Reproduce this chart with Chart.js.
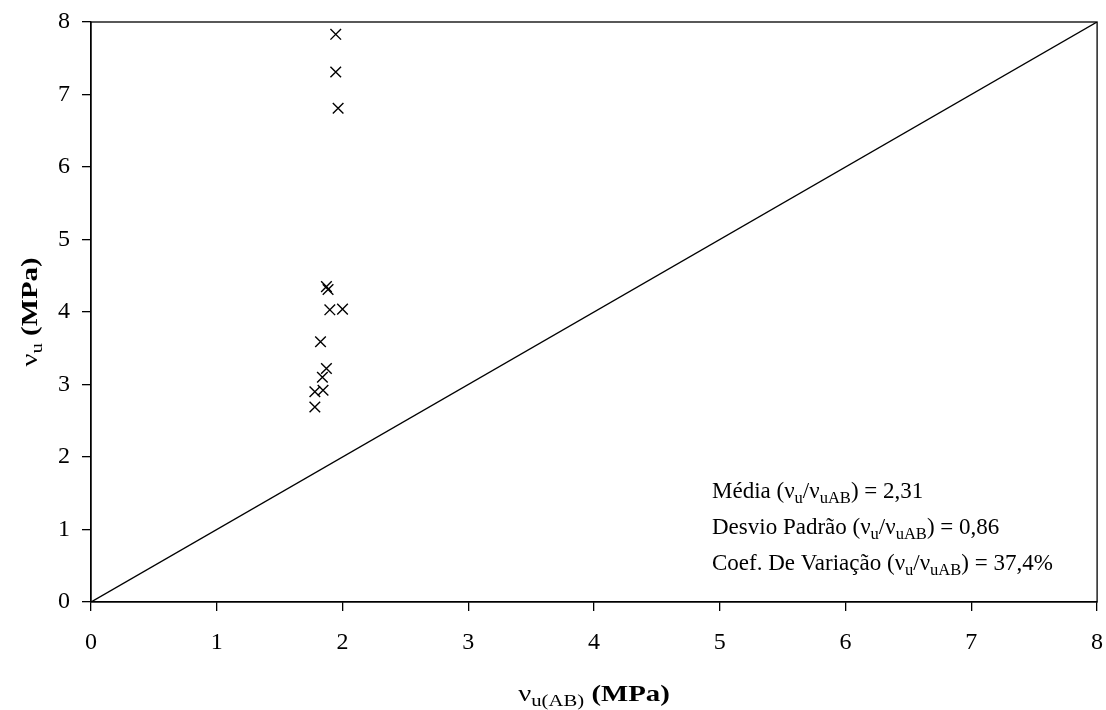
<!DOCTYPE html>
<html>
<head>
<meta charset="utf-8">
<script src="https://cdn.jsdelivr.net/npm/chart.js@4/dist/chart.umd.min.js"></script>
<style>
  html, body { margin: 0; padding: 0; background: #fff; }
  #wrap { width: 1106px; height: 710px; }
</style>
</head>
<body>
<div id="wrap"><canvas id="vuChart"></canvas></div>
<script>
// measured points (vu(AB), vu) in MPa
const vuAB = [1.946, 1.946, 1.965, 1.872, 1.885, 1.899, 2.00, 1.825, 1.872, 1.84, 1.845, 1.78, 1.78];
const vu   = [7.83, 7.31, 6.81, 4.35, 4.31, 4.03, 4.04, 3.59, 3.22, 3.10, 2.92, 2.90, 2.69];
const lineX = [0, 8];
const lineY = [0, 8];
const xTicks = [0, 1, 2, 3, 4, 5, 6, 7, 8];
const yTicks = [0, 1, 2, 3, 4, 5, 6, 7, 8];
const statLines = [
  ["Média (", "ν", "u", "/", "ν", "uAB", ") = 2,31"],
  ["Desvio Padrão (", "ν", "u", "/", "ν", "uAB", ") = 0,86"],
  ["Coef. De Variação (", "ν", "u", "/", "ν", "uAB", ") = 37,4%"]
];

const SERIF = "'Liberation Serif', 'Times New Roman', serif";

// text pieces with subscripts; only non-sub pieces get bold
function drawRich(ctx, parts, x, y, size, bold, align, sx) {
  const fontOf = p => ((bold && p.bold !== false && !p.sub) ? "bold " : "") + (p.sub ? size * 0.72 : size) + "px " + SERIF;
  const w = parts.map(p => { ctx.font = fontOf(p); return ctx.measureText(p.t).width; });
  const total = w.reduce((a, b) => a + b, 0);
  ctx.save();
  ctx.translate(x, y);
  ctx.scale(sx || 1, 1);
  let cx = align === "center" ? -total / 2 : 0;
  parts.forEach((p, i) => {
    ctx.font = fontOf(p);
    ctx.fillText(p.t, cx, p.sub ? size * 0.22 : 0);
    cx += w[i];
  });
  ctx.restore();
}

const extras = {
  id: "extras",
  afterDraw(chart) {
    const ctx = chart.ctx;
    const a = chart.chartArea;
    ctx.save();
    ctx.strokeStyle = "#000";
    ctx.lineWidth = 1.3;
    ctx.strokeRect(a.left, a.top, a.right - a.left, a.bottom - a.top);
    ctx.fillStyle = "#000";
    ctx.textBaseline = "alphabetic";
    ctx.textAlign = "left";

    // stats box
    statLines.forEach((l, i) => {
      const parts = l.map((t, j) => ({ t: t, sub: j === 2 || j === 5 }));
      drawRich(ctx, parts, 712, 498 + i * 36, 23, false, "left", 1);
    });

    // x title
    drawRich(ctx, [
      { t: "ν", bold: false }, { t: "u(AB)", sub: true }, { t: " (MPa)" }
    ], 594, 701, 24, true, "center", 1.2);

    // y title
    ctx.translate(37, (a.top + a.bottom) / 2);
    ctx.rotate(-Math.PI / 2);
    drawRich(ctx, [
      { t: "ν", bold: false }, { t: "u", sub: true }, { t: " (MPa)" }
    ], 0, 0, 24, true, "center", 1.2);
    ctx.restore();
  }
};

new Chart(document.getElementById("vuChart"), {
  type: "scatter",
  data: {
    datasets: [
      {
        label: "ensaios",
        data: vuAB.map((x, i) => ({ x: x, y: vu[i] })),
        pointStyle: "crossRot",
        pointRadius: 7.5,
        pointBorderColor: "#000",
        pointBorderWidth: 1.4,
        backgroundColor: "#000"
      },
      {
        label: "igualdade",
        type: "line",
        data: lineX.map((x, i) => ({ x: x, y: lineY[i] })),
        borderColor: "#000",
        borderWidth: 1.4,
        pointRadius: 0,
        fill: false
      }
    ]
  },
  options: {
    responsive: true,
    maintainAspectRatio: false,
    animation: false,
    layout: { padding: { left: 0, top: 22, right: 8, bottom: 0 } },
    plugins: { legend: { display: false }, tooltip: { enabled: false } },
    scales: {
      x: {
        type: "linear",
        min: 0, max: 8,
        afterBuildTicks: s => { s.ticks = xTicks.map(v => ({ value: v })); },
        afterFit: s => { s.height = 108; s.paddingLeft = 0; s.paddingRight = 0; },
        border: { display: true, color: "#000", width: 1.3 },
        grid: { drawOnChartArea: false, color: "#000", lineWidth: 1.3, tickLength: 9 },
        ticks: { color: "#000", padding: 17, font: { family: SERIF, size: 24 } }
      },
      y: {
        type: "linear",
        min: 0, max: 8,
        afterBuildTicks: s => { s.ticks = yTicks.map(v => ({ value: v })); },
        afterFit: s => { s.width = 91; s.paddingTop = 0; s.paddingBottom = 0; },
        border: { display: true, color: "#000", width: 1.3 },
        grid: { drawOnChartArea: false, color: "#000", lineWidth: 1.3, tickLength: 9 },
        ticks: { color: "#000", padding: 12, font: { family: SERIF, size: 24 } }
      }
    }
  },
  plugins: [extras]
});
</script>
</body>
</html>
